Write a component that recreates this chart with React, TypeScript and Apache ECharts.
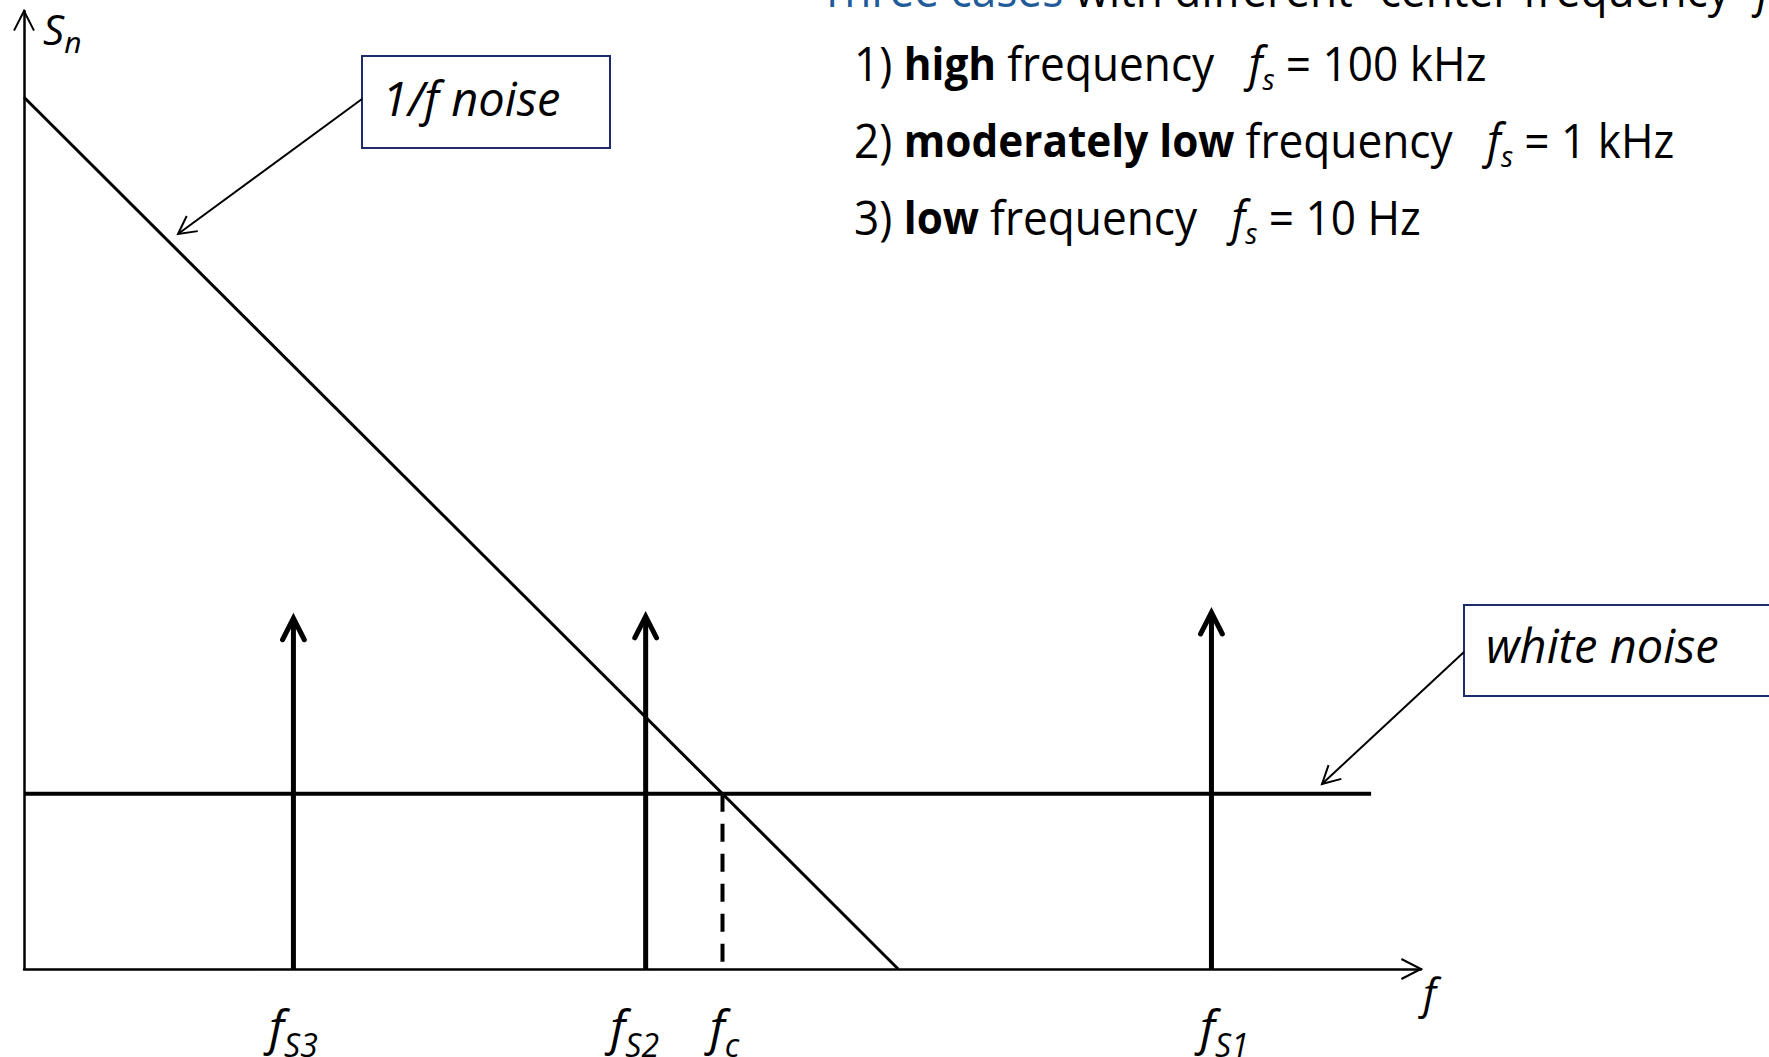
import { useEffect, useRef } from "react";
import * as echarts from "echarts";

const FONT = "'Open Sans', 'Noto Sans', sans-serif";
const INK = "#000000";
const BOX_EDGE = "#1f2a6b";
const HEADING_BLUE = "#1f5c99";

// axis extents (arbitrary linear units)
const fRange = [0, 140];
const snRange = [0, 100];

// 1/f noise: straight fall from the S_n axis down to the f axis
const flickerNoise = [
  [0, 91],
  [87.6, 0],
];
// white-noise floor
const whiteLevel = 18.3;
const whiteEnd = 135;
// corner frequency f_c where both noise curves meet
const cornerFreq = 70;

// signal tones f_S1, f_S2, f_S3
const toneFreqs = [119, 62.3, 27];
const toneHeights = [37.2, 36.8, 36.6];

// labels printed under the f axis
const tickValues = [27, 61.2, 70.2, 120.3];
const tickSubs = ["S3", "S2", "c", "S1"];

// the three cases listed at the top right
const caseNumbers = ["1) ", "2) ", "3) "];
const caseBold = ["high ", "moderately low ", "low "];
const caseFreq = ["100 kHz", "1 kHz", "10 Hz"];

// open arrowhead: two strokes meeting at the tip
function chevron(tip: number[], from: number[], len: number, deg: number) {
  const dx = from[0] - tip[0];
  const dy = from[1] - tip[1];
  const d = Math.hypot(dx, dy) || 1;
  const ux = dx / d;
  const uy = dy / d;
  const a = (deg * Math.PI) / 180;
  const wing = (s: number) => [
    tip[0] + len * (ux * Math.cos(s * a) - uy * Math.sin(s * a)),
    tip[1] + len * (ux * Math.sin(s * a) + uy * Math.cos(s * a)),
  ];
  return [wing(1), tip, wing(-1)];
}

const listRich = {
  n: { fontFamily: FONT, fontSize: 47, fill: INK, lineHeight: 64 },
  b: { fontFamily: FONT, fontSize: 45, fontWeight: "bold", fill: INK, lineHeight: 64 },
  h: { fontFamily: FONT, fontSize: 47, fill: HEADING_BLUE, lineHeight: 64 },
  i: { fontFamily: FONT, fontSize: 47, fontStyle: "italic", fill: INK, lineHeight: 64 },
  s: {
    fontFamily: FONT,
    fontSize: 30,
    fontStyle: "italic",
    fill: INK,
    lineHeight: 30,
    verticalAlign: "bottom",
    padding: [0, 12, 0, 0],
  },
};

// Calibri-like narrow setting of the list text
const LIST_SQUEEZE = 0.94;

function calloutGraphics(
  box: { x: number; y: number; w: number; h: number },
  label: string,
  textX: number,
  textY: number,
  start: number[],
  tip: number[]
) {
  return [
    {
      type: "rect",
      shape: { x: box.x, y: box.y, width: box.w, height: box.h },
      style: { fill: "#ffffff", stroke: BOX_EDGE, lineWidth: 2 },
      z: 10,
    },
    {
      type: "text",
      x: textX,
      y: textY,
      style: {
        text: label,
        fontFamily: FONT,
        fontSize: 47,
        fontStyle: "italic",
        fill: INK,
        align: "left",
        verticalAlign: "middle",
      },
      z: 11,
    },
    {
      type: "polyline",
      shape: { points: [start, tip] },
      style: { stroke: INK, lineWidth: 2, fill: null },
      z: 10,
    },
    {
      type: "polyline",
      shape: { points: chevron(tip, start, 20, 28) },
      style: { stroke: INK, lineWidth: 2, fill: null, lineJoin: "miter" },
      z: 10,
    },
  ];
}

export default function App() {
  const ref = useRef<HTMLDivElement>(null);

  useEffect(() => {
    if (!ref.current) return;
    const chart = echarts.init(ref.current, null, { renderer: "svg" });

    const caseLines = caseNumbers.map((num, i) => ({
      type: "text",
      x: 854,
      y: 62 + i * 77,
      scaleX: LIST_SQUEEZE,
      style: {
        text: `{n|${num}}{b|${caseBold[i]}}{n|frequency   }{i|f}{s|s}{n|= ${caseFreq[i]}}`,
        rich: listRich,
        align: "left",
        verticalAlign: "middle",
      },
    }));

    const option = {
      animation: false,
      backgroundColor: "#ffffff",
      grid: {
        left: 24,
        right: 348,
        top: 11,
        bottom: 88,
        containLabel: false,
        outerBoundsMode: "none",
      },
      xAxis: {
        type: "value",
        min: fRange[0],
        max: fRange[1],
        name: "f",
        nameLocation: "end",
        nameGap: 2,
        nameMoveOverlap: false,
        nameTextStyle: {
          fontFamily: FONT,
          fontSize: 42,
          fontStyle: "italic",
          color: INK,
          align: "left",
          verticalAlign: "top",
          lineHeight: 42,
          padding: [2, 0, 0, 0],
        },
        axisLine: { show: true, lineStyle: { color: INK, width: 2.5 } },
        axisTick: { show: false },
        splitLine: { show: false },
        axisLabel: {
          show: true,
          customValues: tickValues,
          margin: 23,
          formatter: (v: number) => {
            const i = tickValues.findIndex((t) => Math.abs(t - v) < 1e-6);
            return i < 0 ? "" : `{f|f}{s|${tickSubs[i]}}`;
          },
          rich: {
            f: {
              fontFamily: FONT,
              fontSize: 48,
              fontStyle: "italic",
              color: INK,
              lineHeight: 68,
            },
            s: {
              fontFamily: FONT,
              fontSize: 32,
              fontStyle: "italic",
              color: INK,
              lineHeight: 32,
              verticalAlign: "bottom",
            },
          },
        },
      },
      yAxis: {
        type: "value",
        min: snRange[0],
        max: snRange[1],
        name: "{S|S}{n|n}",
        nameLocation: "end",
        nameGap: -17,
        nameMoveOverlap: false,
        nameTextStyle: {
          align: "left",
          verticalAlign: "middle",
          padding: [0, 0, 0, 19],
          rich: {
            S: {
              fontFamily: FONT,
              fontSize: 42,
              fontStyle: "italic",
              color: INK,
              lineHeight: 56,
            },
            n: {
              fontFamily: FONT,
              fontSize: 30,
              fontStyle: "italic",
              color: INK,
              lineHeight: 30,
              verticalAlign: "bottom",
            },
          },
        },
        axisLine: { show: true, lineStyle: { color: INK, width: 2.5 } },
        axisTick: { show: false },
        axisLabel: { show: false },
        splitLine: { show: false },
      },
      series: [
        {
          name: "1/f noise",
          type: "line",
          data: flickerNoise,
          symbol: "none",
          lineStyle: { color: INK, width: 3 },
          z: 3,
        },
        {
          name: "white noise",
          type: "line",
          data: [
            [fRange[0], whiteLevel],
            [whiteEnd, whiteLevel],
          ],
          symbol: "none",
          lineStyle: { color: INK, width: 4 },
          z: 3,
        },
        {
          name: "corner frequency",
          type: "line",
          data: [
            [cornerFreq, whiteLevel],
            [cornerFreq, 0],
          ],
          symbol: "none",
          lineStyle: { color: INK, width: 4, type: [18, 12] },
          z: 2,
        },
        {
          name: "tones",
          type: "custom",
          clip: false,
          data: toneFreqs.map((f, i) => [f, toneHeights[i]]),
          renderItem: (_params: any, api: any) => {
            const base = api.coord([api.value(0), 0]);
            const tip = api.coord([api.value(0), api.value(1)]);
            return {
              type: "group",
              children: [
                {
                  type: "line",
                  shape: { x1: base[0], y1: base[1], x2: tip[0], y2: tip[1] + 2 },
                  style: { stroke: INK, lineWidth: 5 },
                },
                {
                  type: "polyline",
                  shape: { points: chevron(tip, base, 24, 27) },
                  style: {
                    stroke: INK,
                    fill: null,
                    lineWidth: 5,
                    lineJoin: "miter",
                    lineCap: "round",
                  },
                },
              ],
            };
          },
          z: 4,
        },
        {
          name: "axis heads",
          type: "custom",
          clip: false,
          data: [
            [fRange[1], snRange[0]],
            [fRange[0], snRange[1]],
          ],
          renderItem: (_params: any, api: any) => {
            const origin = api.coord([fRange[0], snRange[0]]);
            const tip = api.coord([api.value(0), api.value(1)]);
            return {
              type: "polyline",
              shape: { points: chevron(tip, origin, 22, 27) },
              style: { stroke: INK, fill: null, lineWidth: 2, lineJoin: "miter" },
            };
          },
          z: 4,
        },
      ],
      graphic: [
        {
          type: "text",
          x: 820,
          y: -12,
          scaleX: LIST_SQUEEZE,
          style: {
            text: "{h|Three cases }{n|with different “center frequency” }{i|f}{s|s}",
            rich: listRich,
            align: "left",
            verticalAlign: "middle",
          },
        },
        ...caseLines,
        ...calloutGraphics(
          { x: 362, y: 56, w: 248, h: 92 },
          "1/f noise",
          382,
          98,
          [362, 99],
          [178, 234]
        ),
        ...calloutGraphics(
          { x: 1464, y: 605, w: 400, h: 91 },
          "white noise",
          1486,
          645,
          [1464, 652],
          [1322, 784]
        ),
      ],
    };

    chart.setOption(option as any);
    return () => chart.dispose();
  }, []);

  return (
    <div
      ref={ref}
      style={{
        position: "fixed",
        left: 0,
        top: 0,
        width: 1769,
        height: 1057,
        background: "#ffffff",
      }}
    />
  );
}
